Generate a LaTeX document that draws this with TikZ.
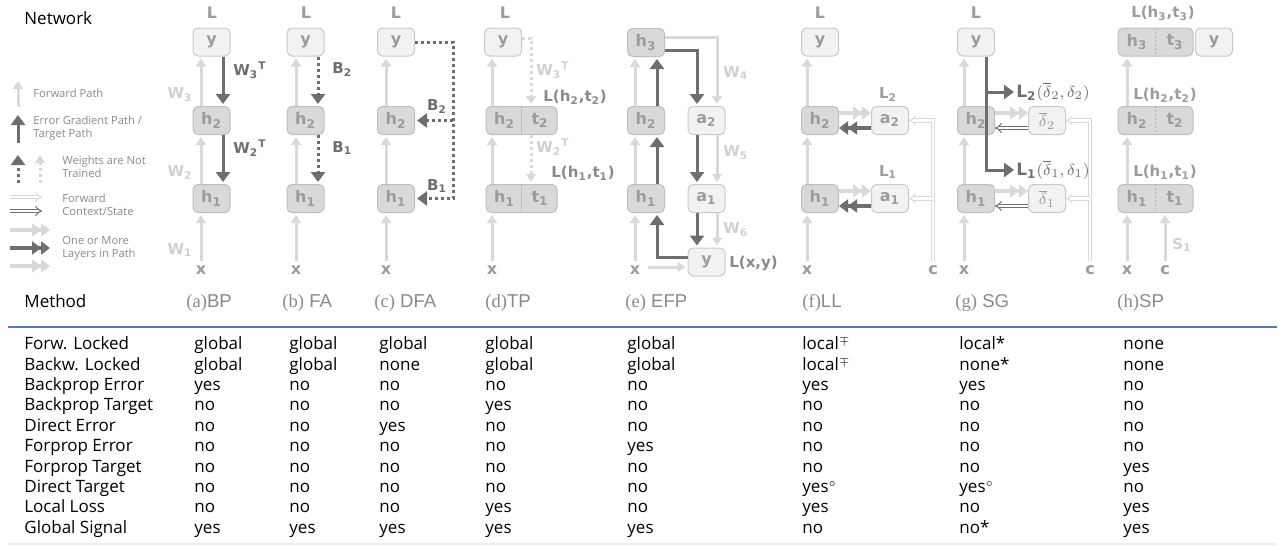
\documentclass[tikz,border=0pt]{standalone}
\usepackage{fontspec}
\setmainfont{Liberation Sans}
\newfontfamily\netfont{DejaVu Sans}
\newfontfamily\capfont{Liberation Serif}
\newfontfamily\tabfont{Open Sans}
\usepackage{tikz}
\usetikzlibrary{arrows.meta}
\definecolor{fwdgray}{HTML}{D9D9D9}
\definecolor{errgray}{HTML}{6E6E6E}
\definecolor{hfill}{HTML}{D9D9D9}
\definecolor{hline}{HTML}{BEBEBE}
\definecolor{yfill}{HTML}{F2F2F2}
\definecolor{yline}{HTML}{C9C9C9}
\definecolor{labgray}{HTML}{9C9C9C}
\definecolor{wgray}{HTML}{D0D0D0}
\definecolor{lgray}{HTML}{8A8A8A}
\definecolor{rulecol}{HTML}{4A7BD3}
\tikzset{
        net_txt/.style = {inner sep=0pt, text=labgray,
            font=\netfont\bfseries\fontsize{8}{9}\selectfont},
        net_h/.style = {net_txt, rectangle, rounded corners=2.5pt, draw=hline,
            fill=hfill, line width=0.5pt, minimum width=18.5pt, minimum height=14pt},
        net_y/.style = {net_h, draw=yline, fill=yfill},
        lab_w/.style = {net_txt, text=wgray,
            font=\netfont\bfseries\fontsize{7.5}{9}\selectfont},
        lab_d/.style = {lab_w, text=errgray},
        lab_l/.style = {lab_w, text=lgray},
        lab_m/.style = {lab_w, text=labgray},
        lab_sg/.style = {lab_d, anchor=west,
            font=\netfont\bfseries\fontsize{8.5}{9}\selectfont},
        arr_fwd/.style = {draw=fwdgray, line width=1.5pt, shorten >=1pt,
            -{Triangle[width=5pt,length=4pt]}},
        arr_err/.style = {arr_fwd, draw=errgray, -{Triangle[width=7pt,length=5pt]}},
        arr_fdot/.style = {arr_fwd, dash pattern=on 1.5pt off 1.5pt},
        arr_edot/.style = {arr_err, dash pattern=on 1.5pt off 1.5pt},
        arr_ctx/.style = {draw=fwdgray, double=white, line width=0.5pt,
            double distance=1.2pt, -{Implies}},
        arr_ctxd/.style = {arr_ctx, draw=errgray},
        arr_lay/.style = {draw=fwdgray, line width=2pt,
            -{Triangle[width=6.5pt,length=4.5pt]Triangle[width=6.5pt,length=4.5pt]}},
        arr_layd/.style = {arr_lay, draw=errgray},
        leg_txt/.style = {inner sep=0pt, anchor=west, align=left, text=lgray,
            font=\tabfont\fontsize{5.6}{6.5}\selectfont},
        tab_txt/.style = {inner sep=0pt, anchor=west, text height=6.4pt, text depth=1.8pt,
            font=\tabfont\fontsize{8.5}{10}\selectfont},
        meth_txt/.style = {tab_txt, text=lgray, font=\fontsize{9.3}{10}\selectfont}
    }
\begin{document}
\begin{tikzpicture}[x=0.5pt,y=-0.5pt]
\useasboundingbox (0,0) rectangle (1279,546);

% legend
\node[tab_txt] (net) at (24,20) {Network};
\draw[arr_fwd] (18,107) -- (18,79);
\node[leg_txt] (leg_fp) at (33,93) {Forward Path};
\draw[arr_err] (18,143) -- (18,113);
\node[leg_txt] (leg_ep) at (33,128.5) {Error Gradient Path /\\Target Path};
\draw[arr_edot] (18,183) -- (18,153);
\draw[arr_fdot] (40,183) -- (40,153);
\node[leg_txt] (leg_nt) at (62,167) {Weights are Not\\Trained};
\draw[arr_ctx] (10,197) -- (42,197);
\draw[arr_ctxd] (10,211) -- (42,211);
\node[leg_txt] (leg_cs) at (62,204.5) {Forward\\Context/State};
\draw[arr_lay] (10,230) -- (50,230);
\draw[arr_layd] (10,248) -- (50,248);
\draw[arr_lay] (10,266) -- (50,266);
\node[leg_txt] (leg_ly) at (62,248.5) {One or More\\Layers in Path};

% (a) BP
\node[net_txt] (bp_l) at (212,13) {L};
\node[net_y] (bp_y) at (211.5,42) {y};
\node[net_h] (bp_h2) at (211.5,120.5) {h\textsubscript{2}};
\node[net_h] (bp_h1) at (211.5,198.5) {h\textsubscript{1}};
\node[net_txt] (bp_x) at (201,270) {x};
\draw[arr_fwd, shorten <=2pt] (bp_x.north) -- (bp_h1.south -| bp_x);
\draw[arr_fwd] (bp_h1.north -| bp_x) -- (bp_h2.south -| bp_x);
\draw[arr_fwd] (bp_h2.north -| bp_x) -- (bp_y.south -| bp_x);
\draw[arr_err] ([xshift=5.75pt]bp_y.south) -- ([xshift=5.75pt]bp_h2.north);
\draw[arr_err] ([xshift=5.75pt]bp_h2.south) -- ([xshift=5.75pt]bp_h1.north);
\node[lab_w] (bp_w3) at (180,95) {W\textsubscript{3}};
\node[lab_w] (bp_w2) at (180,173) {W\textsubscript{2}};
\node[lab_w] (bp_w1) at (180,250) {W\textsubscript{1}};
\node[lab_d, anchor=west] (bp_w3t) at (233,70) {W\textsubscript{3}\textsuperscript{T}};
\node[lab_d, anchor=west] (bp_w2t) at (233,148) {W\textsubscript{2}\textsuperscript{T}};

% (b) FA
\node[net_txt] (fa_l) at (306,13) {L};
\node[net_y] (fa_y) at (305.5,42) {y};
\node[net_h] (fa_h2) at (305.5,120.5) {h\textsubscript{2}};
\node[net_h] (fa_h1) at (305.5,198.5) {h\textsubscript{1}};
\node[net_txt] (fa_x) at (296,270) {x};
\draw[arr_fwd, shorten <=2pt] (fa_x.north) -- (fa_h1.south -| fa_x);
\draw[arr_fwd] (fa_h1.north -| fa_x) -- (fa_h2.south -| fa_x);
\draw[arr_fwd] (fa_h2.north -| fa_x) -- (fa_y.south -| fa_x);
\draw[arr_edot] ([xshift=6.25pt]fa_y.south) -- ([xshift=6.25pt]fa_h2.north);
\draw[arr_edot] ([xshift=6.25pt]fa_h2.south) -- ([xshift=6.25pt]fa_h1.north);
\node[lab_d, anchor=west] (fa_b2) at (332,70) {B\textsubscript{2}};
\node[lab_d, anchor=west] (fa_b1) at (332,148) {B\textsubscript{1}};

% (c) DFA
\node[net_txt] (dfa_l) at (396,13) {L};
\node[net_y] (dfa_y) at (396,42) {y};
\node[net_h] (dfa_h2) at (396,120.5) {h\textsubscript{2}};
\node[net_h] (dfa_h1) at (396,198.5) {h\textsubscript{1}};
\node[net_txt] (dfa_x) at (386,270) {x};
\coordinate (dfa_c) at (453,120.5);
\draw[arr_fwd, shorten <=2pt] (dfa_x.north) -- (dfa_h1.south -| dfa_x);
\draw[arr_fwd] (dfa_h1.north -| dfa_x) -- (dfa_h2.south -| dfa_x);
\draw[arr_fwd] (dfa_h2.north -| dfa_x) -- (dfa_y.south -| dfa_x);
\draw[arr_edot] (dfa_y.east) -- (dfa_y.east -| dfa_c) -- (dfa_h1.east -| dfa_c) -- (dfa_h1.east);
\draw[arr_edot] (dfa_c) -- (dfa_h2.east);
\node[lab_d] (dfa_b2) at (437,107) {B\textsubscript{2}};
\node[lab_d] (dfa_b1) at (437,186) {B\textsubscript{1}};

% (d) TP
\node[net_txt] (tp_l) at (505,13) {L};
\node[net_y] (tp_y) at (503,42) {y};
\node[net_h, minimum width=35.5pt] (tp_h2) at (521.5,120.5) {};
\node[net_txt] (tp_h2t) at (504.5,120.5) {h\textsubscript{2}};
\node[net_txt] (tp_t2) at (540,120.5) {t\textsubscript{2}};
\node[net_h, minimum width=35.5pt] (tp_h1) at (521.5,198.5) {};
\node[net_txt] (tp_h1t) at (504.5,198.5) {h\textsubscript{1}};
\node[net_txt] (tp_t1) at (540,198.5) {t\textsubscript{1}};
\draw[hline, line width=0.6pt] (tp_h2.north) -- (tp_h2.south);
\draw[hline, line width=0.6pt] (tp_h1.north) -- (tp_h1.south);
\node[net_txt] (tp_x) at (492,270) {x};
\draw[arr_fwd, shorten <=2pt] (tp_x.north) -- (tp_h1.south -| tp_x);
\draw[arr_fwd] (tp_h1.north -| tp_x) -- (tp_h2.south -| tp_x);
\draw[arr_fwd] (tp_h2.north -| tp_x) -- (tp_y.south -| tp_x);
\draw[arr_fdot] ([yshift=2pt]tp_y.east) -| ([xshift=4.75pt]tp_h2.north);
\draw[arr_fdot] ([xshift=4.75pt]tp_h2.south) -- ([xshift=4.75pt]tp_h1.north);
\node[lab_w, anchor=west] (tp_w3t) at (536,70) {W\textsubscript{3}\textsuperscript{T}};
\node[lab_l, anchor=west] (tp_l2) at (543,97) {L(h\textsubscript{2},t\textsubscript{2})};
\node[lab_w, anchor=west] (tp_w2t) at (536,147) {W\textsubscript{2}\textsuperscript{T}};
\node[lab_l, anchor=west] (tp_l1) at (551,173) {L(h\textsubscript{1},t\textsubscript{1})};

% (e) EFP
\node[net_h] (efp_h3) at (646,42.5) {h\textsubscript{3}};
\node[net_h] (efp_h2) at (646,120.5) {h\textsubscript{2}};
\node[net_h] (efp_h1) at (646,198.5) {h\textsubscript{1}};
\node[net_y] (efp_a2) at (706.5,120.5) {a\textsubscript{2}};
\node[net_y] (efp_a1) at (706.5,198.5) {a\textsubscript{1}};
\node[net_y] (efp_y) at (706.5,262) {y};
\node[net_txt] (efp_x) at (635,270) {x};
\node[lab_l, anchor=west] (efp_loss) at (729,263) {L(x,y)};
\coordinate (efp_in) at (648,267);
\draw[arr_fwd, shorten <=2pt] (efp_x.north) -- (efp_h1.south -| efp_x);
\draw[arr_fwd] (efp_h1.north -| efp_x) -- (efp_h2.south -| efp_x);
\draw[arr_fwd] (efp_h2.north -| efp_x) -- (efp_h3.south -| efp_x);
\draw[arr_fwd] (efp_in) -- (efp_in -| efp_y.west);
\draw[arr_fwd] ([yshift=2.75pt]efp_h3.east) -| ([xshift=5.25pt]efp_a2.north);
\draw[arr_fwd] ([xshift=5.25pt]efp_a2.south) -- ([xshift=5.25pt]efp_a1.north);
\draw[arr_fwd] ([xshift=5.25pt]efp_a1.south) -- ([xshift=5.25pt]efp_y.north);
\draw[arr_err] ([yshift=2.5pt]efp_y.west) -| ([xshift=5.5pt]efp_h1.south);
\draw[arr_err] ([xshift=5.5pt]efp_h1.north) -- ([xshift=5.5pt]efp_h2.south);
\draw[arr_err] ([xshift=5.5pt]efp_h2.north) -- ([xshift=5.5pt]efp_h3.south);
\draw[arr_err] ([yshift=-3.75pt]efp_h3.east) -| ([xshift=-4.75pt]efp_a2.north);
\draw[arr_err] ([xshift=-4.75pt]efp_a2.south) -- ([xshift=-4.75pt]efp_a1.north);
\draw[arr_err] ([xshift=-4.75pt]efp_a1.south) -- ([xshift=-4.75pt]efp_y.north);
\node[lab_w, anchor=west] (efp_w4) at (723,73) {W\textsubscript{4}};
\node[lab_w, anchor=west] (efp_w5) at (723,153) {W\textsubscript{5}};
\node[lab_w, anchor=west] (efp_w6) at (723,230) {W\textsubscript{6}};

% (f) LL
\node[net_txt] (ll_l) at (820,13) {L};
\node[net_y] (ll_y) at (820,42) {y};
\node[net_h] (ll_h2) at (820,120.5) {h\textsubscript{2}};
\node[net_y] (ll_a2) at (890,120.5) {a\textsubscript{2}};
\node[net_h] (ll_h1) at (820,198.5) {h\textsubscript{1}};
\node[net_y] (ll_a1) at (890,198.5) {a\textsubscript{1}};
\node[net_txt] (ll_x) at (807,270) {x};
\node[net_txt] (ll_c) at (933,270) {c};
\node[lab_m] (ll_l2) at (888,95) {L\textsubscript{2}};
\node[lab_m] (ll_l1) at (888,172) {L\textsubscript{1}};
\draw[arr_fwd, shorten <=2pt] (ll_x.north) -- (ll_h1.south -| ll_x);
\draw[arr_fwd] (ll_h1.north -| ll_x) -- (ll_h2.south -| ll_x);
\draw[arr_fwd] (ll_h2.north -| ll_x) -- (ll_y.south -| ll_x);
\draw[arr_lay] ([yshift=3.75pt]ll_h2.east) -- ([yshift=3.75pt]ll_a2.west);
\draw[arr_layd] ([yshift=-3.75pt]ll_a2.west) -- ([yshift=-3.75pt]ll_h2.east);
\draw[arr_lay] ([yshift=3.75pt]ll_h1.east) -- ([yshift=3.75pt]ll_a1.west);
\draw[arr_layd] ([yshift=-3.75pt]ll_a1.west) -- ([yshift=-3.75pt]ll_h1.east);
\draw[arr_ctx, shorten <=2pt] (ll_c.north) |- (ll_a2.east);
\draw[arr_ctx] (ll_a1.east -| ll_c) -- (ll_a1.east);

% (g) SG
\node[net_txt] (sg_l) at (976,13) {L};
\node[net_y] (sg_y) at (976,42) {y};
\node[net_h] (sg_h2) at (976,120.5) {h\textsubscript{2}};
\node[net_y] (sg_d2) at (1047,120.5) {$\overline{\delta}_2$};
\node[net_h] (sg_h1) at (976,198.5) {h\textsubscript{1}};
\node[net_y] (sg_d1) at (1047,198.5) {$\overline{\delta}_1$};
\node[net_txt] (sg_x) at (964,270) {x};
\node[net_txt] (sg_c) at (1090,270) {c};
\node[lab_sg] (sg_ltwo) at (1016,92) {L\textsubscript{2}$(\overline{\delta}_2,\delta_2)$};
\node[lab_sg] (sg_lone) at (1016,170) {L\textsubscript{1}$(\overline{\delta}_1,\delta_1)$};
\coordinate (sg_b) at ([xshift=5pt]sg_y.south);
\draw[arr_fwd, shorten <=2pt] (sg_x.north) -- (sg_h1.south -| sg_x);
\draw[arr_fwd] (sg_h1.north -| sg_x) -- (sg_h2.south -| sg_x);
\draw[arr_fwd] (sg_h2.north -| sg_x) -- (sg_y.south -| sg_x);
\draw[arr_lay] ([yshift=3.75pt]sg_h2.east) -- ([yshift=3.75pt]sg_d2.west);
\draw[arr_ctxd] ([yshift=-3.75pt]sg_d2.west) -- ([yshift=-3.75pt]sg_h2.east);
\draw[arr_lay] ([yshift=3.75pt]sg_h1.east) -- ([yshift=3.75pt]sg_d1.west);
\draw[arr_ctxd] ([yshift=-3.75pt]sg_d1.west) -- ([yshift=-3.75pt]sg_h1.east);
\draw[arr_ctx, shorten <=2pt] (sg_c.north) |- (sg_d2.east);
\draw[arr_ctx] (sg_d1.east -| sg_c) -- (sg_d1.east);
\draw[arr_err] (sg_b) |- (sg_lone.west);
\draw[arr_err] (sg_b |- sg_ltwo.west) -- (sg_ltwo.west);

% (h) SP
\node[net_h, minimum width=37.5pt] (sp_h3) at (1155.5,42) {};
\node[net_txt] (sp_h3t) at (1137,42) {h\textsubscript{3}};
\node[net_txt] (sp_t3) at (1175,42) {t\textsubscript{3}};
\node[net_h, minimum width=37.5pt] (sp_h2) at (1155.5,120.5) {};
\node[net_txt] (sp_h2t) at (1137,120.5) {h\textsubscript{2}};
\node[net_txt] (sp_t2) at (1175,120.5) {t\textsubscript{2}};
\node[net_h, minimum width=37.5pt] (sp_h1) at (1155.5,198.5) {};
\node[net_txt] (sp_h1t) at (1137,198.5) {h\textsubscript{1}};
\node[net_txt] (sp_t1) at (1175,198.5) {t\textsubscript{1}};
\foreach \n in {sp_h3,sp_h2,sp_h1}
    \draw[hline!80!gray, line width=0.8pt, dash pattern=on 1pt off 1pt] (\n.north) -- (\n.south);
\node[net_y] (sp_y) at (1214,42) {y};
\node[lab_m] (sp_l3) at (1163,13) {L(h\textsubscript{3},t\textsubscript{3})};
\node[lab_m] (sp_l2) at (1165,95) {L(h\textsubscript{2},t\textsubscript{2})};
\node[lab_m] (sp_l1) at (1165,172) {L(h\textsubscript{1},t\textsubscript{1})};
\node[net_txt] (sp_x) at (1127,270) {x};
\node[net_txt] (sp_c) at (1165,270) {c};
\node[lab_w] (sp_s1) at (1182,245) {S\textsubscript{1}};
\draw[arr_fwd, shorten <=2pt] (sp_x.north) -- (sp_h1.south -| sp_x);
\draw[arr_fwd, shorten <=2pt] (sp_c.north) -- (sp_h1.south -| sp_c);
\draw[arr_fwd] (sp_h1.north -| sp_x) -- (sp_h2.south -| sp_x);
\draw[arr_fwd] (sp_h2.north -| sp_x) -- (sp_h3.south -| sp_x);

% methods and table
\node[tab_txt] (meth) at (24,303) {Method};
\node[meth_txt] (m_a) at (186,303) {{\capfont (a)}BP};
\node[meth_txt] (m_b) at (282,303) {{\capfont (b)} FA};
\node[meth_txt] (m_c) at (374,303) {{\capfont (c)} DFA};
\node[meth_txt] (m_d) at (485,303) {{\capfont (d)}TP};
\node[meth_txt] (m_e) at (625,303) {{\capfont (e)} EFP};
\node[meth_txt] (m_f) at (802,303) {{\capfont (f)}LL};
\node[meth_txt] (m_g) at (955,303) {{\capfont (g)} SG};
\node[meth_txt] (m_h) at (1117,303) {{\capfont (h)}SP};
\draw[rulecol, line width=1pt] (8,327) -- (1277,327);
\draw[black!7, line width=0.6pt] (8,544) -- (1277,544);
\foreach \lab/\va/\vb/\vc/\vd/\ve/\vf/\vg/\vh [count=\i] in {
    Forw. Locked/global/global/global/global/global/local$^{\scriptscriptstyle\mp}$/local*/none,
    Backw. Locked/global/global/none/global/global/local$^{\scriptscriptstyle\mp}$/none*/none,
    Backprop Error/yes/no/no/no/no/yes/yes/no,
    Backprop Target/no/no/no/yes/no/no/no/no,
    Direct Error/no/no/yes/no/no/no/no/no,
    Forprop Error/no/no/no/no/yes/no/no/no,
    Forprop Target/no/no/no/no/no/no/no/yes,
    Direct Target/no/no/no/no/no/yes$^{\scriptscriptstyle\circ}$/yes$^{\scriptscriptstyle\circ}$/no,
    Local Loss/no/no/no/yes/no/yes/no/yes,
    Global Signal/yes/yes/yes/yes/yes/no/no*/yes}{
    \node[tab_txt] (r\i) at (24,{324.6+20.4*\i}) {\lab};
    \node[tab_txt] (r\i a) at (194,{324.6+20.4*\i}) {\va};
    \node[tab_txt] (r\i b) at (289,{324.6+20.4*\i}) {\vb};
    \node[tab_txt] (r\i c) at (379,{324.6+20.4*\i}) {\vc};
    \node[tab_txt] (r\i d) at (485,{324.6+20.4*\i}) {\vd};
    \node[tab_txt] (r\i e) at (627,{324.6+20.4*\i}) {\ve};
    \node[tab_txt] (r\i f) at (802,{324.6+20.4*\i}) {\vf};
    \node[tab_txt] (r\i g) at (959,{324.6+20.4*\i}) {\vg};
    \node[tab_txt] (r\i h) at (1123,{324.6+20.4*\i}) {\vh};
}
\end{tikzpicture}
\end{document}
